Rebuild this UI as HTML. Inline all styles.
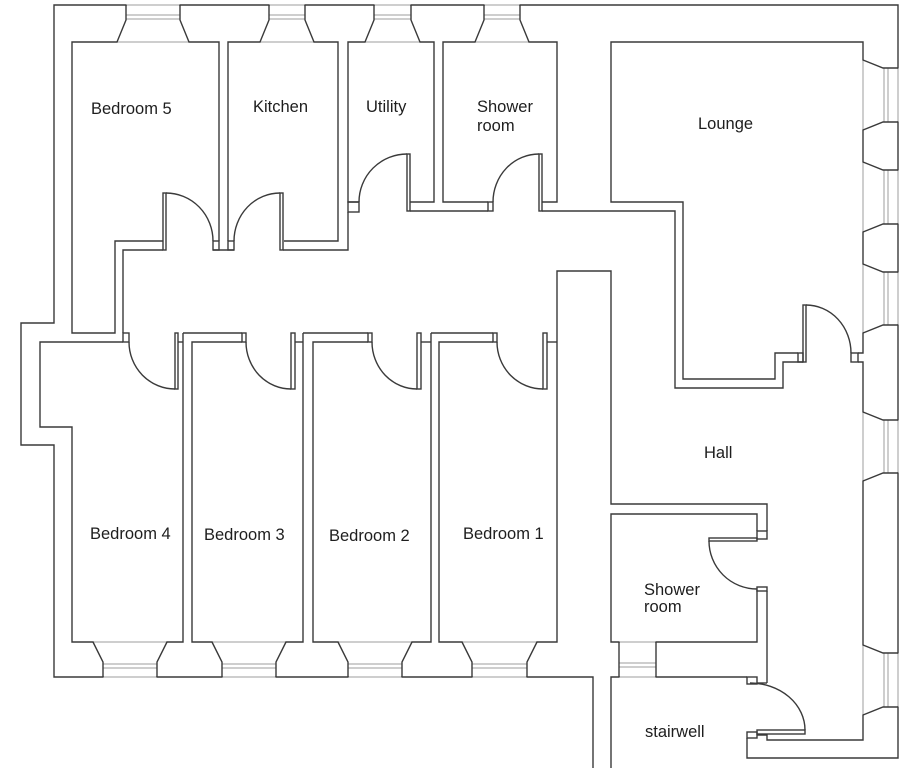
<!DOCTYPE html>
<html><head><meta charset="utf-8">
<style>
html,body{margin:0;padding:0;background:#fff;}
svg{display:block;}
text{font-family:"Liberation Sans",Arial,sans-serif;font-size:16.5px;fill:#1e1e1e;}
</style></head><body>
<svg width="907" height="768" viewBox="0 0 907 768" xmlns="http://www.w3.org/2000/svg">
<rect x="0" y="0" width="907" height="768" fill="#fff"/>
<g fill="none" stroke="#3a3a3a" stroke-width="1.4">
<!-- outer wall -->
<polyline points="593,768 593,677 54,677 54,445 21,445 21,323 54,323 54,5 898,5 898,758 747,758 747,738"/>

<!-- Bedroom 5 -->
<polyline points="163,241 115,241 115,333 72,333 72,42 219,42 219,241"/>
<rect x="213" y="241" width="6" height="9"/>
<rect x="163" y="193" width="3" height="57"/>
<path d="M166,193 A47,48 0 0 1 213,241"/>

<!-- Kitchen -->
<polyline points="284,241 338,241 338,42 228,42 228,241"/>
<rect x="228" y="241" width="6" height="9"/>
<rect x="280" y="193" width="3" height="57"/>
<path d="M234,241 A46,48 0 0 1 280,193"/>

<!-- corridor top-left -->
<polyline points="163,250 123,250 123,333"/>
<line x1="213" y1="250" x2="234" y2="250"/>
<polyline points="283,250 348,250 348,212"/>

<!-- Utility -->
<polyline points="359,202 348,202 348,42 434,42 434,202 410,202"/>
<rect x="348" y="202" width="11" height="10"/>
<rect x="407" y="154" width="3" height="57"/>
<path d="M359,202 A48,48 0 0 1 407,154"/>
<line x1="410" y1="211" x2="488" y2="211"/>

<!-- Shower room top -->
<polyline points="488,202 443,202 443,42 557,42 557,202 542,202"/>
<rect x="488" y="202" width="5" height="9"/>
<rect x="539" y="154" width="3" height="57"/>
<path d="M493,202 A46,48 0 0 1 539,154"/>
<polyline points="542,211 675,211 675,388 783,388 783,362 803,362"/>

<!-- Lounge -->
<polyline points="798,353 775,353 775,379 683,379 683,202 611,202 611,42 863,42 863,353 858,353"/>
<rect x="798" y="353" width="5" height="9"/>
<rect x="851" y="353" width="7" height="9"/>
<rect x="803" y="305" width="3" height="57"/>
<path d="M806,305 A45,48 0 0 1 851,353"/>
<polyline points="858,362 863,362 863,740 767,740 767,735 757,735"/>

<!-- Hall left / wall block -->
<polyline points="557,333 557,271 611,271 611,504 767,504 767,531"/>

<!-- Shower room bottom -->
<polyline points="757,531 757,514 611,514 611,642 757,642 757,590"/>
<rect x="757" y="531" width="10" height="8"/>
<rect x="709" y="538" width="48" height="3"/>
<path d="M709,541 A48,48 0 0 0 757,589"/>
<rect x="757" y="587" width="10" height="4"/>
<line x1="767" y1="591" x2="767" y2="683"/>

<!-- Stairwell -->
<polyline points="611,768 611,677 747,677"/>
<rect x="747" y="677" width="10" height="7"/>
<line x1="757" y1="683" x2="767" y2="683"/>
<rect x="757" y="730" width="48" height="4"/>
<path d="M805,730 A55,47 0 0 0 750,683"/>
<rect x="747" y="732" width="10" height="6"/>

<!-- Bedroom 4 -->
<polyline points="123,342 40,342 40,427 72,427 72,642 183,642 183,333"/>
<rect x="123" y="333" width="6" height="9"/>
<rect x="175" y="333" width="3" height="56"/>
<line x1="178" y1="342" x2="183" y2="342"/>
<path d="M129,342 A46,47 0 0 0 175,389"/>
<line x1="183" y1="333" x2="242" y2="333"/>

<!-- Bedroom 3 -->
<polyline points="242,342 192,342 192,642 303,642 303,333"/>
<rect x="242" y="333" width="4" height="9"/>
<rect x="291" y="333" width="4" height="56"/>
<line x1="295" y1="342" x2="303" y2="342"/>
<path d="M246,342 A45,47 0 0 0 291,389"/>
<line x1="303" y1="333" x2="368" y2="333"/>

<!-- Bedroom 2 -->
<polyline points="368,342 313,342 313,642 431,642 431,333"/>
<rect x="368" y="333" width="4" height="9"/>
<rect x="417" y="333" width="4" height="56"/>
<line x1="421" y1="342" x2="431" y2="342"/>
<path d="M372,342 A45,47 0 0 0 417,389"/>
<line x1="431" y1="333" x2="493" y2="333"/>

<!-- Bedroom 1 -->
<polyline points="493,342 439,342 439,642 557,642 557,333"/>
<rect x="493" y="333" width="4" height="9"/>
<rect x="543" y="333" width="4" height="56"/>
<line x1="547" y1="342" x2="557" y2="342"/>
<path d="M497,342 A46,47 0 0 0 543,389"/>
</g>

<!-- window white-outs -->
<g stroke="#fff" stroke-width="2.5" fill="none">
<line x1="118" y1="42" x2="188" y2="42"/><line x1="127" y1="5" x2="179" y2="5"/>
<line x1="261" y1="42" x2="313" y2="42"/><line x1="270" y1="5" x2="304" y2="5"/>
<line x1="366" y1="42" x2="419" y2="42"/><line x1="375" y1="5" x2="410" y2="5"/>
<line x1="476" y1="42" x2="528" y2="42"/><line x1="485" y1="5" x2="519" y2="5"/>

<line x1="94" y1="642" x2="166" y2="642"/><line x1="104" y1="677" x2="156" y2="677"/>
<line x1="213" y1="642" x2="285" y2="642"/><line x1="223" y1="677" x2="275" y2="677"/>
<line x1="339" y1="642" x2="411" y2="642"/><line x1="349" y1="677" x2="401" y2="677"/>
<line x1="463" y1="642" x2="536" y2="642"/><line x1="473" y1="677" x2="526" y2="677"/>

<line x1="863" y1="61" x2="863" y2="129"/><line x1="898" y1="69" x2="898" y2="121"/>
<line x1="863" y1="163" x2="863" y2="231"/><line x1="898" y1="171" x2="898" y2="223"/>
<line x1="863" y1="265" x2="863" y2="332"/><line x1="898" y1="273" x2="898" y2="324"/>
<line x1="863" y1="413" x2="863" y2="480"/><line x1="898" y1="421" x2="898" y2="472"/>
<line x1="863" y1="646" x2="863" y2="714"/><line x1="898" y1="654" x2="898" y2="706"/>

<line x1="620" y1="642" x2="655" y2="642"/><line x1="620" y1="677" x2="655" y2="677"/>
</g>

<!-- window light lines -->
<g stroke="#9c9c9c" stroke-width="1" fill="none">
<line x1="117" y1="42" x2="189" y2="42"/><line x1="126" y1="5" x2="180" y2="5"/>
<line x1="126" y1="15" x2="180" y2="15"/><line x1="126" y1="19" x2="180" y2="19"/>
<line x1="260" y1="42" x2="314" y2="42"/><line x1="269" y1="5" x2="305" y2="5"/>
<line x1="269" y1="15" x2="305" y2="15"/><line x1="269" y1="19" x2="305" y2="19"/>
<line x1="365" y1="42" x2="420" y2="42"/><line x1="374" y1="5" x2="411" y2="5"/>
<line x1="374" y1="15" x2="411" y2="15"/><line x1="374" y1="19" x2="411" y2="19"/>
<line x1="475" y1="42" x2="529" y2="42"/><line x1="484" y1="5" x2="520" y2="5"/>
<line x1="484" y1="15" x2="520" y2="15"/><line x1="484" y1="19" x2="520" y2="19"/>

<line x1="93" y1="642" x2="167" y2="642"/><line x1="103" y1="677" x2="157" y2="677"/>
<line x1="103" y1="664" x2="157" y2="664"/><line x1="103" y1="668" x2="157" y2="668"/>
<line x1="212" y1="642" x2="286" y2="642"/><line x1="222" y1="677" x2="276" y2="677"/>
<line x1="222" y1="664" x2="276" y2="664"/><line x1="222" y1="668" x2="276" y2="668"/>
<line x1="338" y1="642" x2="412" y2="642"/><line x1="348" y1="677" x2="402" y2="677"/>
<line x1="348" y1="664" x2="402" y2="664"/><line x1="348" y1="668" x2="402" y2="668"/>
<line x1="462" y1="642" x2="537" y2="642"/><line x1="472" y1="677" x2="527" y2="677"/>
<line x1="472" y1="664" x2="527" y2="664"/><line x1="472" y1="668" x2="527" y2="668"/>

<line x1="863" y1="60" x2="863" y2="130"/><line x1="898" y1="68" x2="898" y2="122"/>
<line x1="884" y1="68" x2="884" y2="122"/><line x1="888" y1="68" x2="888" y2="122"/>
<line x1="863" y1="162" x2="863" y2="232"/><line x1="898" y1="170" x2="898" y2="224"/>
<line x1="884" y1="170" x2="884" y2="224"/><line x1="888" y1="170" x2="888" y2="224"/>
<line x1="863" y1="264" x2="863" y2="333"/><line x1="898" y1="272" x2="898" y2="325"/>
<line x1="884" y1="272" x2="884" y2="325"/><line x1="888" y1="272" x2="888" y2="325"/>
<line x1="863" y1="412" x2="863" y2="481"/><line x1="898" y1="420" x2="898" y2="473"/>
<line x1="884" y1="420" x2="884" y2="473"/><line x1="888" y1="420" x2="888" y2="473"/>
<line x1="863" y1="645" x2="863" y2="715"/><line x1="898" y1="653" x2="898" y2="707"/>
<line x1="884" y1="653" x2="884" y2="707"/><line x1="888" y1="653" x2="888" y2="707"/>

<line x1="619" y1="642" x2="656" y2="642"/><line x1="619" y1="677" x2="656" y2="677"/>
<line x1="619" y1="663" x2="656" y2="663"/><line x1="619" y1="667" x2="656" y2="667"/>
</g>

<!-- window splays / frame ends -->
<g stroke="#3a3a3a" stroke-width="1.4" fill="none">
<polyline points="117,42 126,20 126,5"/><polyline points="189,42 180,20 180,5"/>
<polyline points="260,42 269,20 269,5"/><polyline points="314,42 305,20 305,5"/>
<polyline points="365,42 374,20 374,5"/><polyline points="420,42 411,20 411,5"/>
<polyline points="475,42 484,20 484,5"/><polyline points="529,42 520,20 520,5"/>

<polyline points="93,642 103,662 103,677"/><polyline points="167,642 157,662 157,677"/>
<polyline points="212,642 222,662 222,677"/><polyline points="286,642 276,662 276,677"/>
<polyline points="338,642 348,662 348,677"/><polyline points="412,642 402,662 402,677"/>
<polyline points="462,642 472,662 472,677"/><polyline points="537,642 527,662 527,677"/>

<polyline points="863,60 883,68 898,68"/><polyline points="863,130 883,122 898,122"/>
<polyline points="863,162 883,170 898,170"/><polyline points="863,232 883,224 898,224"/>
<polyline points="863,264 883,272 898,272"/><polyline points="863,333 883,325 898,325"/>
<polyline points="863,412 883,420 898,420"/><polyline points="863,481 883,473 898,473"/>
<polyline points="863,645 883,653 898,653"/><polyline points="863,715 883,707 898,707"/>

<line x1="619" y1="642" x2="619" y2="677"/><line x1="656" y1="642" x2="656" y2="677"/>
</g>

<!-- labels -->
<text x="91" y="114">Bedroom 5</text>
<text x="253" y="112">Kitchen</text>
<text x="366" y="112">Utility</text>
<text x="477" y="112">Shower</text>
<text x="477" y="131">room</text>
<text x="698" y="129">Lounge</text>
<text x="704" y="458">Hall</text>
<text x="90" y="539">Bedroom 4</text>
<text x="204" y="540">Bedroom 3</text>
<text x="329" y="541">Bedroom 2</text>
<text x="463" y="539">Bedroom 1</text>
<text x="644" y="595">Shower</text>
<text x="644" y="612">room</text>
<text x="645" y="737">stairwell</text>
</svg>
</body></html>
